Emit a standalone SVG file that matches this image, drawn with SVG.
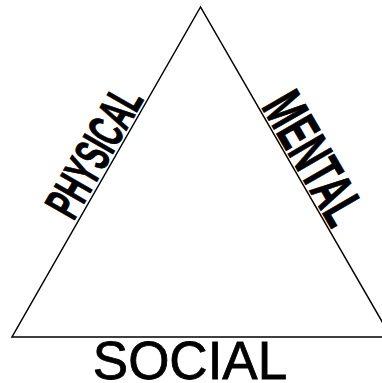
<svg xmlns="http://www.w3.org/2000/svg" width="382" height="383" viewBox="0 0 382 383">
<style>
.edge{fill:none;stroke:#000;stroke-width:1.5;stroke-linejoin:miter}
.side{font-family:"Liberation Sans",Arial,sans-serif;font-weight:bold;fill:#000;stroke:#000;stroke-width:1;text-anchor:middle}
.base{font-family:"Liberation Sans",Arial,sans-serif;fill:#000;stroke:#000;stroke-width:0.8;text-anchor:middle}
</style>
<rect width="382" height="383" fill="#fff"/>
<g id="connectors">
<polygon class="edge" points="200.5,7 12,337 391,337"/>
</g>
<g id="physical">
<text class="side" font-size="50" transform="translate(109,160.5) rotate(-60) scale(0.56,1)">PHYSICAL</text>
</g>
<g id="mental">
<text class="side" font-size="58" transform="translate(296.3,168.2) rotate(60) scale(0.6,1)">MENTAL</text>
</g>
<g id="social">
<text class="base" font-size="53" x="190" y="379">SOCIAL</text>
</g>
</svg>
